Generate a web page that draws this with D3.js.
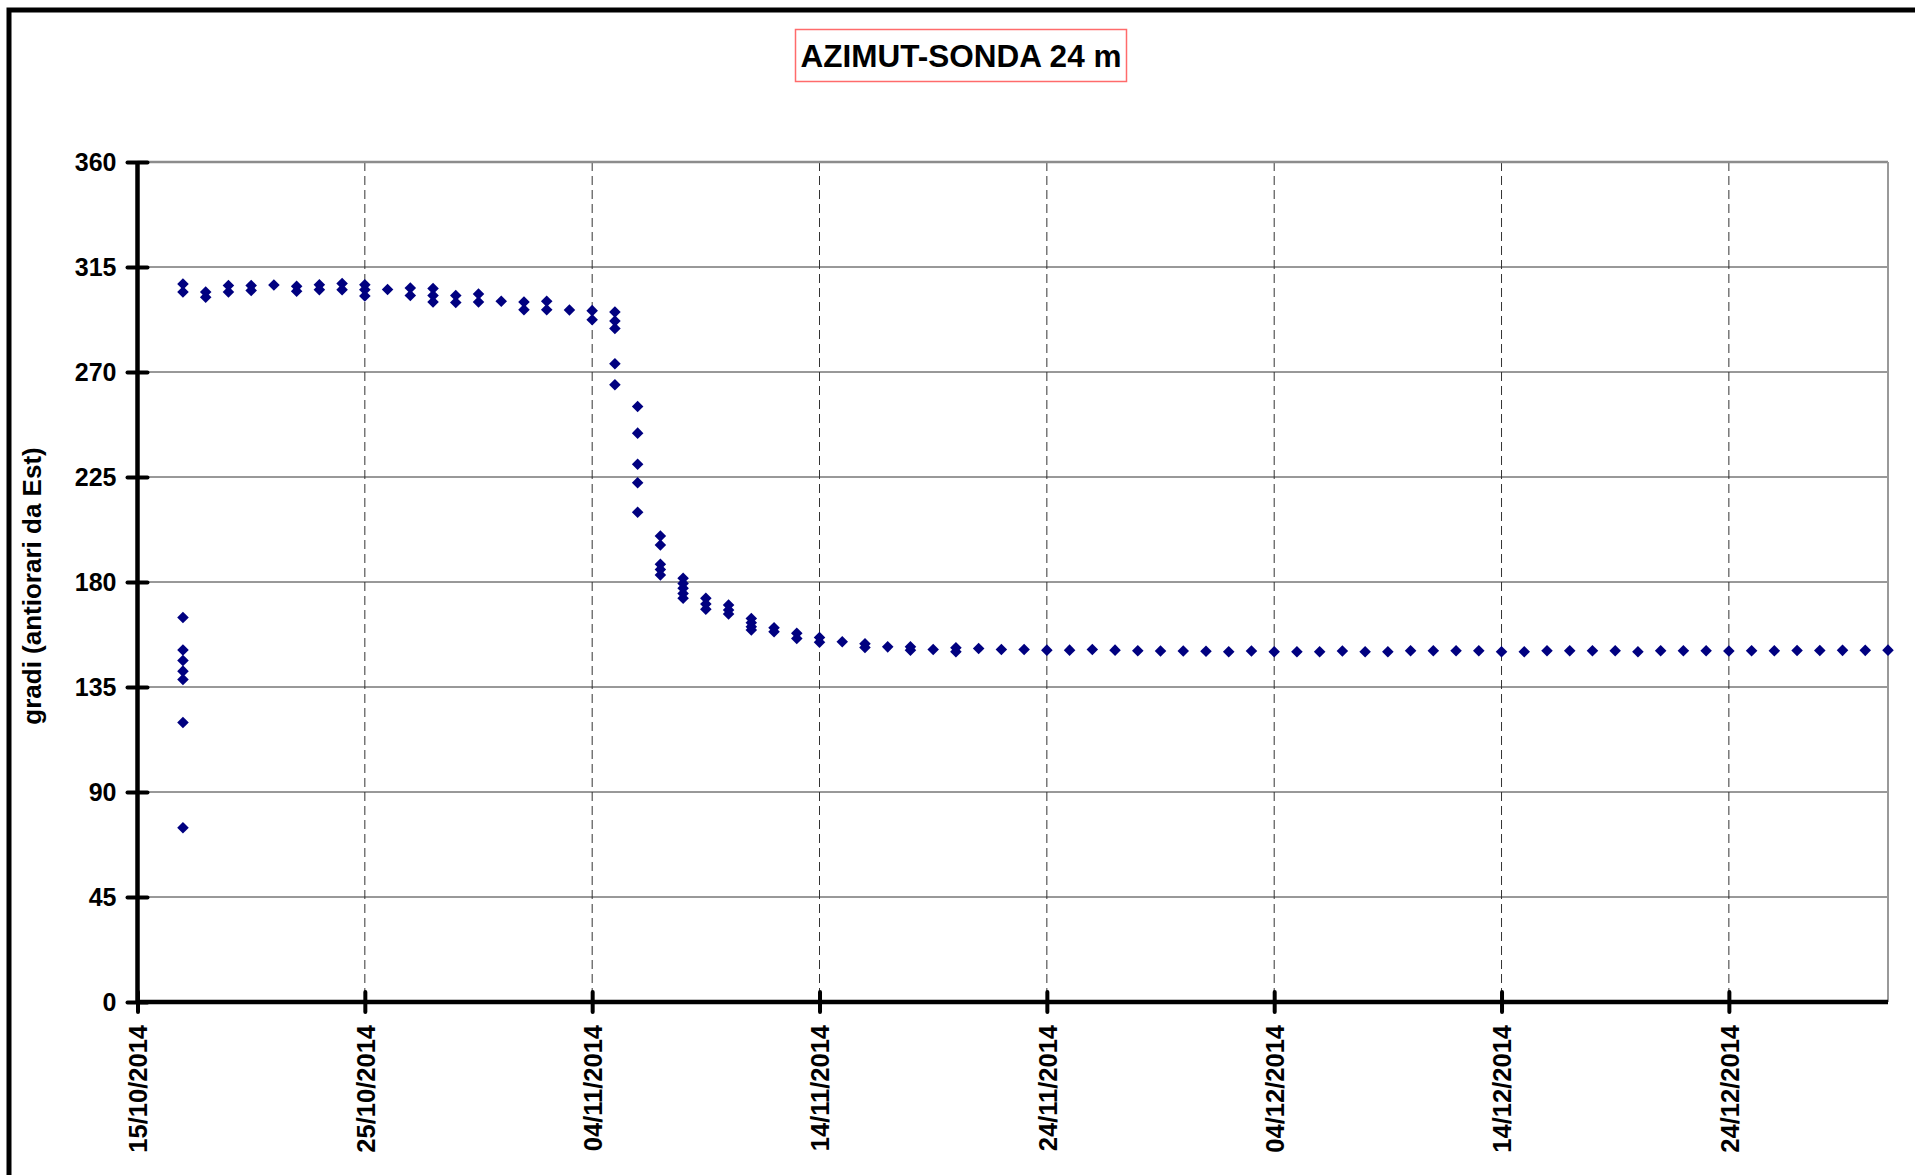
<!DOCTYPE html>
<html>
<head>
<meta charset="utf-8">
<script src="https://cdn.jsdelivr.net/npm/d3@7"></script>
<style>
  html, body { margin: 0; padding: 0; background: #fff; overflow: hidden; }
  svg { display: block; font-family: "Liberation Sans", Arial, sans-serif; }
</style>
</head>
<body>
<svg id="chart" width="1915" height="1175"></svg>
<script>
// ---------- DATA ----------
const chartTitle = "AZIMUT-SONDA 24 m";
const yAxisTitle = "gradi (antiorari da Est)";
const yTicks = [0, 45, 90, 135, 180, 225, 270, 315, 360];
const xTickDates = ["2014-10-15", "2014-10-25", "2014-11-04", "2014-11-14", "2014-11-24",
                    "2014-12-04", "2014-12-14", "2014-12-24"];
const xDomain = ["2014-10-15", "2014-12-31"];

const readingDates = [
  "2014-10-17","2014-10-18","2014-10-19","2014-10-20","2014-10-21","2014-10-22","2014-10-23",
  "2014-10-24","2014-10-25","2014-10-26","2014-10-27","2014-10-28","2014-10-29","2014-10-30",
  "2014-10-31","2014-11-01","2014-11-02","2014-11-03","2014-11-04","2014-11-05","2014-11-06",
  "2014-11-07","2014-11-08","2014-11-09","2014-11-10","2014-11-11","2014-11-12","2014-11-13",
  "2014-11-14","2014-11-15","2014-11-16","2014-11-17","2014-11-18","2014-11-19","2014-11-20",
  "2014-11-21","2014-11-22","2014-11-23","2014-11-24","2014-11-25","2014-11-26","2014-11-27",
  "2014-11-28","2014-11-29","2014-11-30","2014-12-01","2014-12-02","2014-12-03","2014-12-04",
  "2014-12-05","2014-12-06","2014-12-07","2014-12-08","2014-12-09","2014-12-10","2014-12-11",
  "2014-12-12","2014-12-13","2014-12-14","2014-12-15","2014-12-16","2014-12-17","2014-12-18",
  "2014-12-19","2014-12-20","2014-12-21","2014-12-22","2014-12-23","2014-12-24","2014-12-25",
  "2014-12-26","2014-12-27","2014-12-28","2014-12-29","2014-12-30","2014-12-31"
];
// azimuth readings (degrees) recorded on each date
const readingValues = [
  [307.7, 304.3, 164.8, 150.9, 146.4, 141.8, 138.2, 119.8, 74.7],
  [304.3, 302.0],
  [307.1, 304.3],
  [307.1, 304.9],
  [307.3],
  [306.7, 304.6],
  [307.4, 305.3],
  [307.9, 305.3],
  [307.4, 305.3, 302.6],
  [305.4],
  [306.0, 302.8],
  [305.8, 302.8, 300.0],
  [302.8, 299.8],
  [303.4, 300.0],
  [300.3],
  [300.0, 296.7],
  [300.3, 296.7],
  [296.6],
  [296.3, 292.4],
  [295.7, 291.9, 288.6, 273.5, 264.5],
  [255.2, 243.8, 230.5, 222.5, 209.9],
  [199.7, 195.9, 187.6, 185.4, 183.0],
  [181.6, 179.4, 177.3, 175.1, 173.0],
  [173.0, 170.6, 168.3],
  [170.1, 168.0, 166.3],
  [164.4, 162.5, 160.8, 159.4],
  [160.4, 158.7],
  [158.0, 155.8],
  [156.2, 154.2],
  [154.4],
  [153.5, 151.9],
  [152.2],
  [152.2, 150.8],
  [151.1],
  [151.8, 150.1],
  [151.5],
  [151.1],
  [151.1],
  [150.8],
  [150.8],
  [151.1],
  [150.8],
  [150.5],
  [150.4],
  [150.4],
  [150.3],
  [150.1],
  [150.4],
  [150.1],
  [150.1],
  [150.1],
  [150.4],
  [150.1],
  [150.1],
  [150.5],
  [150.5],
  [150.5],
  [150.5],
  [150.1],
  [150.1],
  [150.5],
  [150.5],
  [150.5],
  [150.5],
  [150.1],
  [150.5],
  [150.5],
  [150.5],
  [150.4],
  [150.5],
  [150.5],
  [150.6],
  [150.6],
  [150.7],
  [150.7],
  [150.8]
];

// ---------- CHART ----------
const parse = d3.timeParse("%Y-%m-%d");
const fmt = d3.timeFormat("%d/%m/%Y");
const svg = d3.select("#chart");

const plot = { left: 137.5, right: 1888, top: 162, bottom: 1002 };

const x = d3.scaleTime().domain(xDomain.map(parse)).range([plot.left, plot.right]);
const y = d3.scaleLinear().domain([0, 360]).range([plot.bottom, plot.top]);

// outer frame
svg.append("rect")
  .attr("x", 9).attr("y", 10).attr("width", 1940).attr("height", 1200)
  .attr("fill", "#fff").attr("stroke", "#000").attr("stroke-width", 5);

// title box
const titleG = svg.append("g");
titleG.append("rect")
  .attr("x", 795.5).attr("y", 29.5).attr("width", 331).attr("height", 52)
  .attr("fill", "#fff").attr("stroke", "#ff6b6b").attr("stroke-width", 1.5);
titleG.append("text")
  .attr("x", 961).attr("y", 67)
  .attr("text-anchor", "middle")
  .attr("font-size", 31.5).attr("font-weight", "bold").attr("fill", "#000")
  .text(chartTitle);

// horizontal gridlines
svg.append("g").selectAll("line")
  .data(yTicks.filter(v => v > 0 && v < 360))
  .join("line")
  .attr("x1", plot.left).attr("x2", plot.right)
  .attr("y1", d => y(d)).attr("y2", d => y(d))
  .attr("stroke", "#333").attr("stroke-width", 1);

// vertical dashed gridlines
svg.append("g").selectAll("line")
  .data(xTickDates.slice(1).map(parse))
  .join("line")
  .attr("x1", d => x(d)).attr("x2", d => x(d))
  .attr("y1", plot.top).attr("y2", plot.bottom)
  .attr("stroke", "#333").attr("stroke-width", 1)
  .attr("stroke-dasharray", "9,5");

// plot-area border (top and right)
svg.append("line")
  .attr("x1", plot.left).attr("x2", plot.right)
  .attr("y1", y(360)).attr("y2", y(360))
  .attr("stroke", "#8c8c8c").attr("stroke-width", 2.5);
svg.append("line")
  .attr("x1", plot.right).attr("x2", plot.right)
  .attr("y1", plot.top).attr("y2", plot.bottom)
  .attr("stroke", "#999").attr("stroke-width", 2);

// markers
const pts = [];
readingDates.forEach((d, i) => {
  readingValues[i].forEach(v => pts.push({ date: parse(d), value: v }));
});
const diamond = d3.symbol().type(d3.symbolDiamond2).size(85);
svg.append("g").selectAll("path")
  .data(pts)
  .join("path")
  .attr("d", diamond)
  .attr("transform", d => `translate(${x(d.date)},${y(d.value)})`)
  .attr("fill", "#000080");

// Y axis
const yAxis = svg.append("g")
  .attr("transform", `translate(${plot.left},0)`)
  .call(d3.axisLeft(y).tickValues(yTicks).tickSizeOuter(0).tickPadding(20));
yAxis.select(".domain").attr("stroke", "#000").attr("stroke-width", 4.5)
  .attr("d", `M0,${plot.top}V${plot.bottom}`);
yAxis.selectAll(".tick line")
  .attr("x1", -10).attr("x2", 10)
  .attr("stroke", "#000").attr("stroke-width", 4).attr("stroke-linecap", "round");
yAxis.selectAll(".tick text")
  .attr("x", -21)
  .attr("font-size", 25).attr("font-weight", "bold").attr("fill", "#000")
  .attr("font-family", "'Liberation Sans', Arial, sans-serif");

// X axis
const xAxis = svg.append("g")
  .attr("transform", `translate(0,${plot.bottom})`)
  .call(d3.axisBottom(x).tickValues(xTickDates.map(parse)).tickFormat(fmt).tickSizeOuter(0));
xAxis.select(".domain").attr("stroke", "#000").attr("stroke-width", 4.5)
  .attr("d", `M${plot.left},0H${plot.right}`);
xAxis.selectAll(".tick line")
  .attr("y1", -10).attr("y2", 10)
  .attr("stroke", "#000").attr("stroke-width", 4).attr("stroke-linecap", "round");
xAxis.selectAll(".tick text")
  .attr("transform", "rotate(-90)")
  .attr("x", -23).attr("y", 0).attr("dy", "0.36em")
  .attr("text-anchor", "end")
  .attr("font-size", 25.5).attr("font-weight", "bold").attr("fill", "#000")
  .attr("font-family", "'Liberation Sans', Arial, sans-serif");

// Y axis title
svg.append("text")
  .attr("transform", "translate(32,586) rotate(-90)")
  .attr("text-anchor", "middle").attr("dy", "0.36em")
  .attr("font-size", 26).attr("font-weight", "bold").attr("fill", "#000")
  .text(yAxisTitle);
</script>
</body>
</html>
